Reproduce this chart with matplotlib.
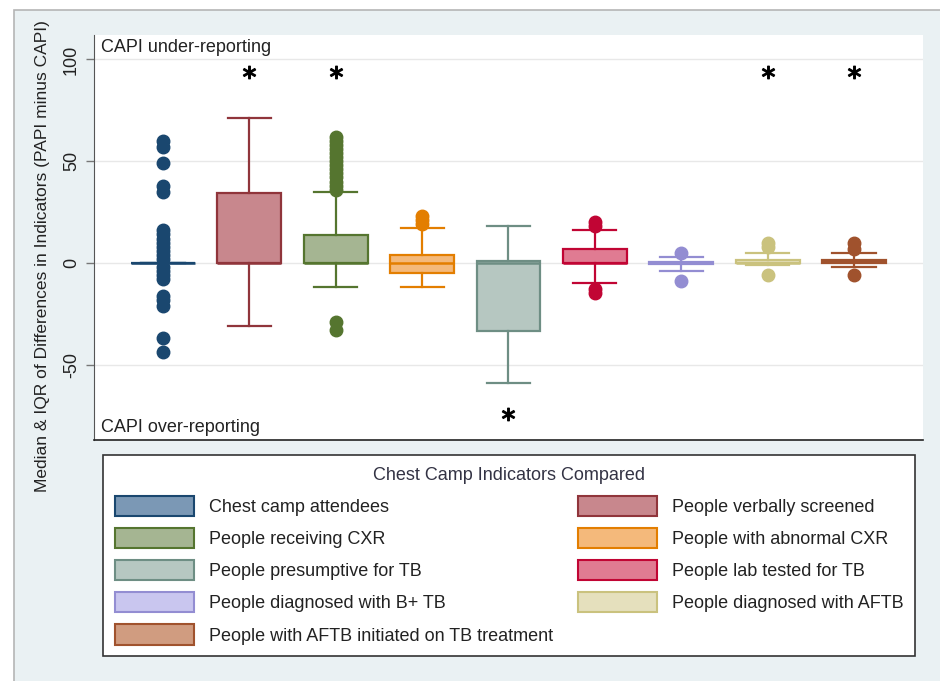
import matplotlib.pyplot as plt
from matplotlib.patches import Rectangle, Patch

plt.rcParams['font.family'] = ['Liberation Sans', 'DejaVu Sans']
plt.rcParams['axes.unicode_minus'] = False

# indicator names, in plotting order
indicators = ['Chest camp attendees', 'People verbally screened',
              'People receiving CXR', 'People with abnormal CXR',
              'People presumptive for TB', 'People lab tested for TB',
              'People diagnosed with B+ TB', 'People diagnosed with AFTB',
              'People with AFTB initiated on TB treatment']

# box stats (PAPI minus CAPI)
medians = [0, 0, 0, 0, 0, 0, 0, 0, 1]
q1s = [0, 0, 0, -5, -33.5, 0, -0.5, 0, 0]
q3s = [0, 34.5, 13.5, 4, 1, 7, 0.5, 1.5, 1.5]
whis_lo = [0, -31, -12, -12, -59, -10, -4, -1, -2]
whis_hi = [0, 71, 35, 17, 18, 16, 3, 5, 5]
outliers = [
    [60, 57, 49, 38, 35, 16, 14, 12, 10, 8, 6, 4, 2, -2, -4, -6, -8, -16, -18, -21, -37, -44],
    [],
    [62, 60, 58, 56, 54, 52, 50, 48, 46, 44, 42, 40, 38, 36, -29, -33],
    [23, 21, 19],
    [],
    [20, 18, -13, -15],
    [5, -9],
    [10, 8, -6],
    [10, 7, -6],
]
# significance stars: (box number, y value)
star_pos = [2, 3, 8, 9, 5]
star_y = [94, 94, 94, 94, -74]

line_cols = ['#1a476f', '#90353b', '#55752f', '#e37e00', '#6e8e84',
             '#c10534', '#938dd2', '#cac27e', '#a0522d']
fill_cols = ['#7b98b5', '#c8878d', '#a5b592', '#f4b97b', '#b6c7c1',
             '#e07b92', '#c9c6ef', '#e5e0bd', '#d09c80']

bg = '#eaf1f3'
txt = '#222222'

fig = plt.figure(figsize=(9.4, 6.81), dpi=100)
fig.patch.set_facecolor('white')
fig.patches.append(Rectangle((14 / 940, -0.05), 1.1, 1.05 - 10 / 681,
                             transform=fig.transFigure, facecolor=bg,
                             edgecolor='#b5b5b5', lw=1.2, zorder=-10))

ax = fig.add_axes([94 / 940, 1 - 440 / 681, (923 - 94) / 940, (440 - 35) / 681])
ax.set_facecolor('white')

stats = []
for i in range(len(indicators)):
    stats.append(dict(med=medians[i], q1=q1s[i], q3=q3s[i],
                      whislo=whis_lo[i], whishi=whis_hi[i],
                      fliers=outliers[i], label=indicators[i]))

pos = list(range(1, len(indicators) + 1))
for i, st in enumerate(stats):
    c = line_cols[i]
    ax.bxp([st], positions=[pos[i]], widths=0.74, patch_artist=True,
           showfliers=True,
           boxprops=dict(facecolor=fill_cols[i], edgecolor=c, lw=1.6),
           medianprops=dict(color=c, lw=1.8),
           whiskerprops=dict(color=c, lw=1.6),
           capprops=dict(color=c, lw=1.6),
           capwidths=0.5,
           flierprops=dict(marker='o', markerfacecolor=c, markeredgecolor=c,
                           markersize=9, linestyle='none'))

ax.scatter(star_pos, star_y, marker='$*$', s=80, color='black', zorder=5)

ax.set_xlim(0.2, 9.8)
ax.set_ylim(-87, 112)
ax.set_xticks([])
ax.set_yticks([-50, 0, 50, 100])
ax.yaxis.grid(True, color='#e8e8e8', lw=1)
ax.set_axisbelow(True)
ax.tick_params(axis='y', length=6, width=1, color='#777777', pad=4,
               labelsize=13, labelcolor=txt, labelrotation=90)
for lab in ax.get_yticklabels():
    lab.set_va('center')
for s in ['top', 'right']:
    ax.spines[s].set_visible(False)
ax.spines['left'].set_color('#555555')
ax.spines['bottom'].set_color('#222222')
ax.spines['bottom'].set_linewidth(1.2)

ax.set_ylabel('Median & IQR of Differences in Indicators (PAPI minus CAPI)',
              fontsize=12.5, color=txt)
ax.yaxis.set_label_coords((43 - 94) / 829, (440 - 256) / 405)
ax.yaxis.label.set_va('center')

ax.text(0.008, 106, 'CAPI under-reporting', transform=ax.get_yaxis_transform(),
        fontsize=13, color=txt, va='center', ha='left')
ax.text(0.008, -81, 'CAPI over-reporting', transform=ax.get_yaxis_transform(),
        fontsize=13, color=txt, va='center', ha='left')

handles = [Patch(facecolor=fill_cols[i], edgecolor=line_cols[i], lw=1.5,
                 label=indicators[i]) for i in range(len(indicators))]
order = [0, 2, 4, 6, 8, 1, 3, 5, 7]
leg = fig.legend([handles[k] for k in order], [indicators[k] for k in order],
                 ncol=2, loc='upper left', mode='expand', borderaxespad=0,
                 bbox_to_anchor=(103 / 940, 1 - 455 / 681, (915 - 103) / 940, 0.0),
                 title='Chest Camp Indicators Compared', title_fontsize=13,
                 fontsize=13, handlelength=4.4, handleheight=1.35,
                 labelspacing=0.66, handletextpad=0.8, columnspacing=1.5,
                 borderpad=0.65, frameon=True, fancybox=False, framealpha=1)
leg.get_frame().set_edgecolor('#333333')
leg.get_frame().set_linewidth(1.2)
leg.get_frame().set_facecolor('white')
leg.get_title().set_color('#333344')
for t in leg.get_texts():
    t.set_color(txt)

plt.savefig('out.png', dpi=100, facecolor=fig.get_facecolor())
